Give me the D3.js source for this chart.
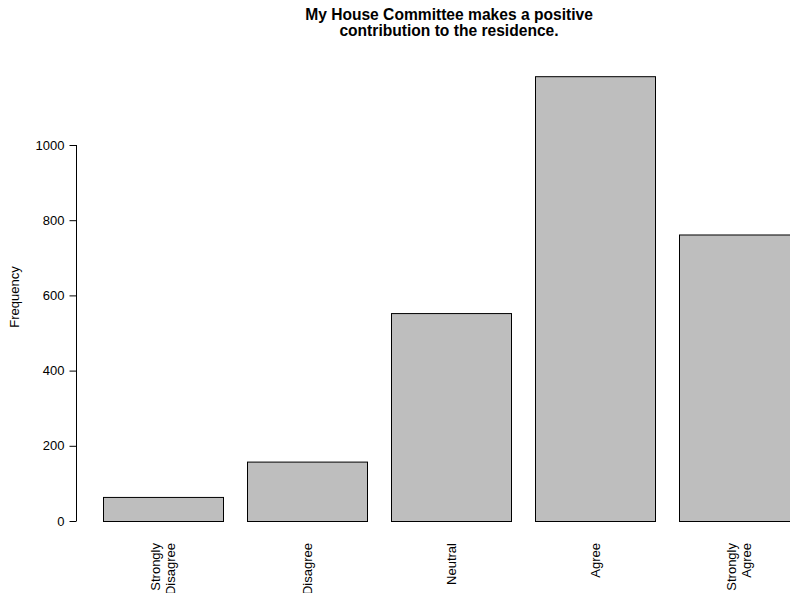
<!DOCTYPE html>
<html>
<head>
<meta charset="utf-8">
<script src="https://cdn.jsdelivr.net/npm/d3@7"></script>
<style>
  html, body { margin: 0; padding: 0; background: #fff; }
  svg { display: block; font-family: "Liberation Sans", Arial, Helvetica, sans-serif; }
</style>
</head>
<body>
<svg id="chart" width="790" height="593"></svg>
<script>
const categories = ["Strongly\nDisagree", "Disagree", "Neutral", "Agree", "Strongly\nAgree"];
const frequencies = [64, 158, 553, 1183, 762];
const yTicks = [0, 200, 400, 600, 800, 1000];
const titleLines = ["My House Committee makes a positive", "contribution to the residence."];
const yLabel = "Frequency";

const svg = d3.select("#chart");

const x = d3.scaleBand().domain(categories).range([103, 799]).paddingInner(1/6).paddingOuter(0);
const y = d3.scaleLinear().domain([0, 1000]).range([521, 145]);

// bars
svg.append("g").selectAll("rect").data(categories).join("rect")
  .attr("x", d => x(d) + 0.5)
  .attr("y", (d, i) => y(frequencies[i]) + 0.5)
  .attr("width", x.bandwidth())
  .attr("height", (d, i) => y(0) - y(frequencies[i]))
  .attr("fill", "#bebebe")
  .attr("stroke", "#000")
  .attr("stroke-width", 1);

// y axis
const yAxis = d3.axisLeft(y).tickValues(yTicks).tickSize(7).tickPadding(5).tickFormat(d3.format("d"));
const gy = svg.append("g").attr("transform", "translate(76.5,0)").call(yAxis);
gy.select(".domain").attr("d", `M0,${y(0)}V${y(1000)}`).attr("stroke", "#000");
gy.selectAll(".tick line").attr("stroke", "#000");
gy.selectAll(".tick text").attr("font-size", 13).attr("fill", "#000")
  .attr("font-family", "'Liberation Sans', Arial, sans-serif");

// y label
svg.append("text")
  .attr("transform", `translate(19,${(y(0) + y(1000)) / 2 - 36}) rotate(-90)`)
  .attr("text-anchor", "middle")
  .attr("font-size", 13)
  .text(yLabel);

// x labels (rotated)
const lineH = 15;
categories.forEach(c => {
  const lines = c.split("\n");
  const cx = x(c) + x.bandwidth() / 2;
  const t = svg.append("text")
    .attr("transform", `translate(${cx},543) rotate(-90)`)
    .attr("text-anchor", "end")
    .attr("font-size", 13);
  lines.forEach((ln, i) => {
    const off = (i - (lines.length - 1) / 2) * lineH;
    t.append("tspan").attr("x", 0).attr("y", off).attr("dy", "0.35em").text(ln);
  });
});

// title
const title = svg.append("text").attr("text-anchor", "middle")
  .attr("font-size", 15.6).attr("font-weight", "bold");
titleLines.forEach((ln, i) => {
  title.append("tspan").attr("x", 449).attr("y", 19.5 + i * 16.5).text(ln);
});
</script>
</body>
</html>
